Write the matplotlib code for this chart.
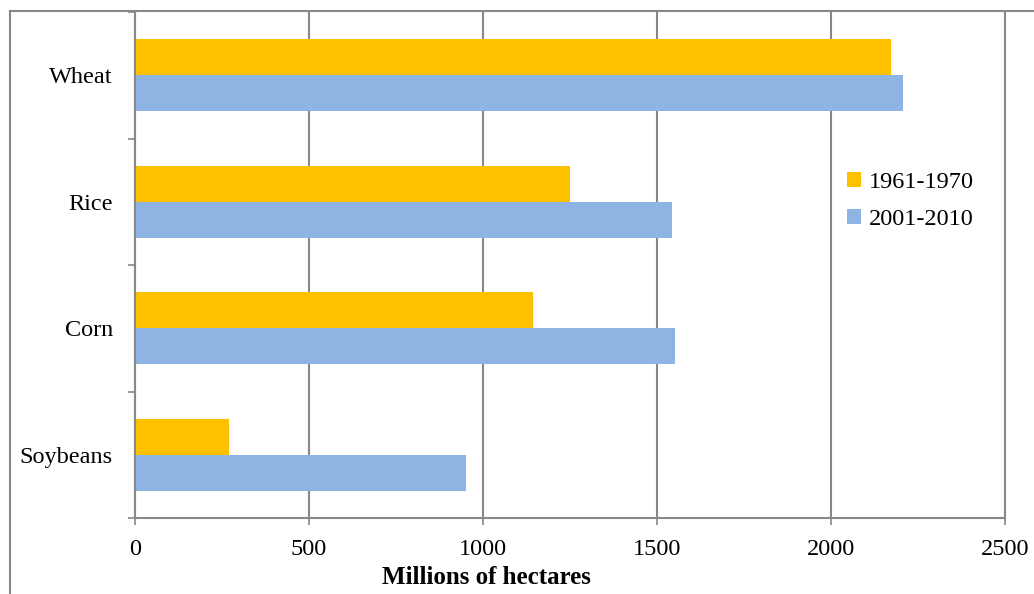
import numpy as np
import matplotlib.pyplot as plt
from matplotlib.lines import Line2D

# crop area, millions of hectares
crops = ['Wheat', 'Rice', 'Corn', 'Soybeans']
area_1961_1970 = [2171, 1251, 1144, 269]
area_2001_2010 = [2206, 1542, 1552, 951]
xticks = [0, 500, 1000, 1500, 2000, 2500]

yellow = '#FFC000'
blue = '#8EB4E3'
grey = '#888888'

plt.rcParams['font.family'] = ['Liberation Serif', 'DejaVu Serif']

fig = plt.figure(figsize=(10.34, 5.94), dpi=100)
ax = fig.add_axes([135 / 1034, 76 / 594, 870 / 1034, 506 / 594])

pos = np.arange(len(crops))
h = 0.285
ax.barh(pos - h / 2, area_1961_1970, height=h, color=yellow, label='1961-1970')
ax.barh(pos + h / 2, area_2001_2010, height=h, color=blue, label='2001-2010')

ax.set_ylim(len(crops) - 0.5, -0.5)
ax.set_yticks(pos)
ax.set_yticklabels(crops, fontsize=17.5)
ax.set_yticks(np.arange(len(crops) + 1) - 0.5, minor=True)
ax.tick_params(axis='y', which='major', length=0, pad=16)
ax.tick_params(axis='y', which='minor', length=5, width=1.2, color=grey)

ax.set_xlim(0, 2500)
ax.set_xticks(xticks)
ax.set_xticklabels([str(t) for t in xticks], fontsize=17.5)
ax.tick_params(axis='x', length=5, width=1.2, color=grey, pad=10)
ax.grid(axis='x', color=grey, linewidth=1.5)
for gl in ax.get_xgridlines():
    gl.set_clip_on(False)
ax.set_axisbelow(True)

for side in ['top', 'right']:
    ax.spines[side].set_visible(False)
for side in ['left', 'bottom']:
    ax.spines[side].set_color(grey)
    ax.spines[side].set_linewidth(1.5)

fig.text(486 / 1034, 1 - 578 / 594, 'Millions of hectares', fontsize=18, fontweight='bold',
         ha='center', va='center')

ax.legend(loc='upper left', bbox_to_anchor=(825 / 1034, 1 - 150 / 594),
          bbox_transform=fig.transFigure, frameon=False, fontsize=17.5,
          handlelength=0.6, handleheight=0.6, handletextpad=0.3, labelspacing=0.65)

# outer chart border
fig.add_artist(Line2D([10 / 1034, 10 / 1034], [0, 1 - 11 / 594], color=grey, linewidth=1.5,
                      transform=fig.transFigure))
fig.add_artist(Line2D([10 / 1034, 1], [1 - 11 / 594, 1 - 11 / 594], color=grey, linewidth=1.5,
                      transform=fig.transFigure))

fig.savefig('out.png', dpi=100)
